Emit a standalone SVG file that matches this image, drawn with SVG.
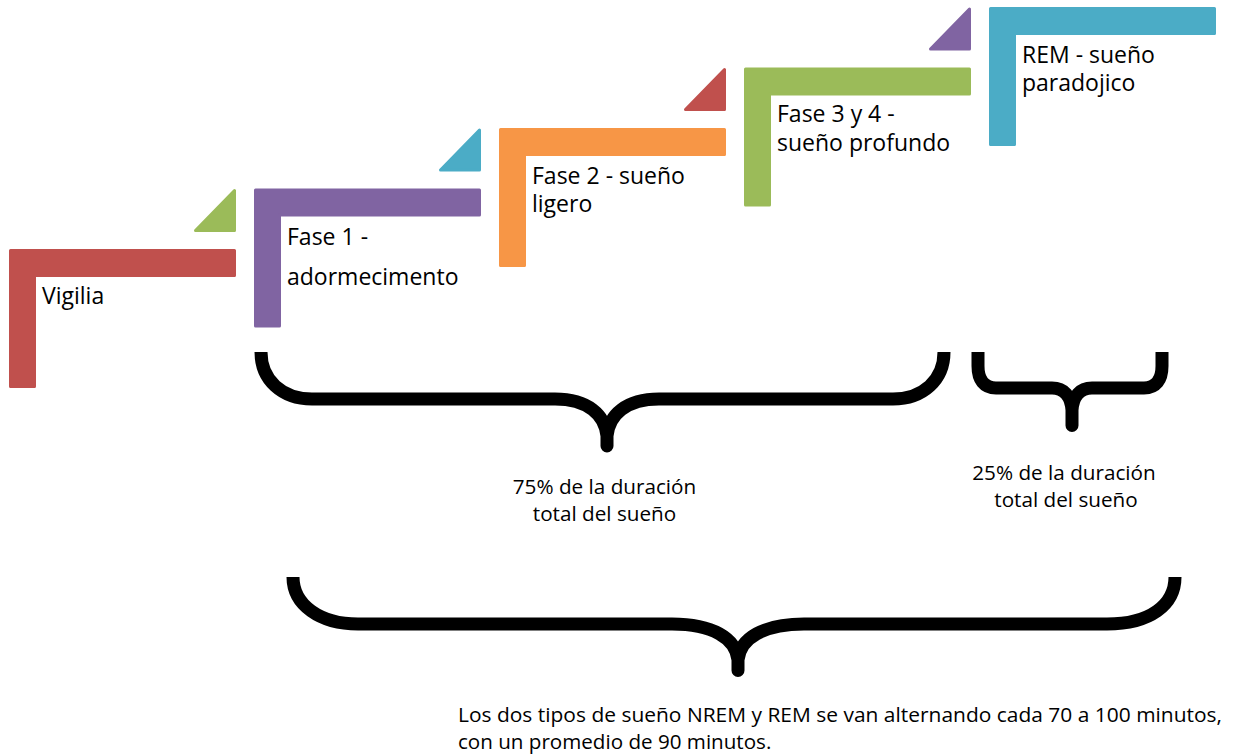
<svg xmlns="http://www.w3.org/2000/svg" xmlns:xlink="http://www.w3.org/1999/xlink" width="1234" height="754" viewBox="0 0 1234 754">
  <style>
    .label { font-family: "Open Sans", "Liberation Sans", sans-serif; font-size: 23px; fill: #000; }
    .note { font-family: "Open Sans", "Liberation Sans", sans-serif; font-size: 20.7px; fill: #000; }
    .foot { font-family: "Open Sans", "Liberation Sans", sans-serif; font-size: 20.6px; fill: #000; }
    .brace { fill: none; stroke: #000; stroke-width: 13; stroke-linejoin: round; stroke-linecap: butt; }
    .red { fill: #C0504D; stroke: #C0504D; }
    .green { fill: #9BBB59; stroke: #9BBB59; }
    .purple { fill: #8064A2; stroke: #8064A2; }
    .blue { fill: #4BACC6; stroke: #4BACC6; }
    .orange { fill: #F79646; stroke: #F79646; }
    .shape { stroke-width: 3; stroke-linejoin: round; }
  </style>
  <defs>
    <!-- L-shaped step, local origin at its outer top-left corner -->
    <path id="ell" d="M1.5,1.5 H225.5 V26.5 H25.5 V137.5 H1.5 Z"/>
    <!-- right-angled accent sitting above the end of a step -->
    <path id="accent" d="M225.5,-58.5 V-18.5 H186.5 Z"/>
  </defs>

  <!-- steps -->
  <g id="step-vigilia" transform="translate(9,249)">
    <use xlink:href="#ell" class="shape red"/>
    <use xlink:href="#accent" class="shape green"/>
    <text class="label" x="33" y="55">Vigilia</text>
  </g>
  <g id="step-fase1" transform="translate(254,188.5)">
    <use xlink:href="#ell" class="shape purple"/>
    <use xlink:href="#accent" class="shape blue"/>
    <text class="label" x="33" y="56">Fase 1 -</text>
    <text class="label" x="33" y="96">adormecimento</text>
  </g>
  <g id="step-fase2" transform="translate(499,128)">
    <use xlink:href="#ell" class="shape orange"/>
    <use xlink:href="#accent" class="shape red"/>
    <text class="label" x="33" y="56">Fase 2 - sueño</text>
    <text class="label" x="33" y="84">ligero</text>
  </g>
  <g id="step-fase34" transform="translate(744,67.5)">
    <use xlink:href="#ell" class="shape green"/>
    <use xlink:href="#accent" class="shape purple"/>
    <text class="label" x="33" y="54">Fase 3 y 4 -</text>
    <text class="label" x="33" y="83">sueño profundo</text>
  </g>
  <g id="step-rem" transform="translate(989,7)">
    <use xlink:href="#ell" class="shape blue"/>
    <text class="label" x="33" y="56">REM - sueño</text>
    <text class="label" x="33" y="84">paradojico</text>
  </g>

  <!-- braces -->
  <g id="connectors">
    <path class="brace" d="M261,352 C261,380 282,399 312,399 H555 C588,399 605,415 607,436 V446 V436 C609,415 626,399 659,399 H893 C923,399 944,380 944,352"/>
    <path class="brace" d="M978,352 V366 C978,380 984,388 996,388 H1052 C1064,388 1071,396 1072,410 V425.5 V410 C1073,396 1080,388 1092,388 H1144 C1156,388 1162,380 1162,366 V352"/>
    <path class="brace" d="M293,577 C293,605 320,624 358,624 H672 C712,624 736,638 738,660 V670.5 V660 C740,638 764,624 804,624 H1107 C1150,624 1175,605 1175,577"/>
  </g>

  <!-- brace captions -->
  <g id="note-nrem">
    <text class="note" x="604.5" y="494" text-anchor="middle">75% de la duración</text>
    <text class="note" x="604.5" y="521" text-anchor="middle">total del sueño</text>
  </g>
  <g id="note-rem">
    <text class="note" x="1064" y="480" text-anchor="middle">25% de la duración</text>
    <text class="note" x="1066" y="507" text-anchor="middle">total del sueño</text>
  </g>
  <g id="note-cycle">
    <text class="foot" x="458" y="722" textLength="764" lengthAdjust="spacingAndGlyphs">Los dos tipos de sueño NREM y REM se van alternando cada 70 a 100 minutos,</text>
    <text class="foot" x="458" y="749">con un promedio de 90 minutos.</text>
  </g>
</svg>
